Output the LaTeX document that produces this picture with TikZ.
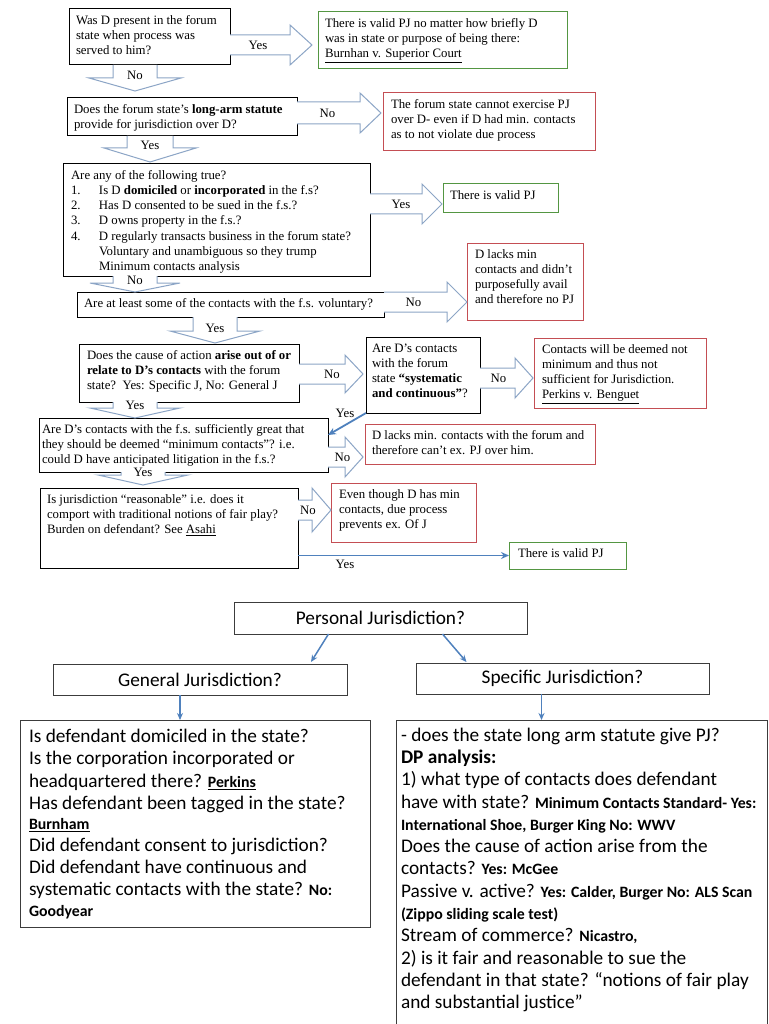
\documentclass[tikz,border=0pt]{standalone}
\usepackage{fontspec}
\setmainfont{Liberation Serif}
\newfontfamily\calfont{Carlito}
\usetikzlibrary{arrows.meta,calc}
\definecolor{acol}{RGB}{140,165,198}
\definecolor{gcol}{RGB}{84,150,66}
\definecolor{rcol}{RGB}{196,78,84}
\definecolor{tcol}{RGB}{79,129,189}
\definecolor{bcol}{RGB}{60,60,60}
\newcommand\fcfont{\fontsize{12.8}{15.3}\selectfont}
\newcommand\bigfont{\calfont\fontsize{19.3}{22.3}\selectfont}
\newcommand\sm[1]{{\fontsize{15.8}{22.3}\selectfont\bfseries #1}}
\newcommand\nm[1]{\makebox[28pt][l]{#1}}
\def\qbpady{4.3pt}
% [padx]{name}{x1}{y1}{x2}{y2}{style}{text}
\newcommand\qb[8][7]{%
  \pgfmathsetlengthmacro\qbw{(#5-#3)*1pt-2*(#1)*1pt}%
  \pgfmathsetlengthmacro\qbh{(#6-#4)*1pt-2*\qbpady}%
  \node[#7, anchor=north west, inner xsep=#1pt, inner ysep=\qbpady, outer sep=0pt] (#2) at (#3,#4)
   {\parbox[c][\qbh][t]{\qbw}{\raggedright\strut #8}};%
}
% right block arrow: {src}{dst}{yc}{shaft half}{head half}{head len}{gap}{label}{label dx}
\newcommand\blockR[9]{%
  \path[blockarrow] let \p1=(#1.east), \p2=(#2.west) in
   (\x1,{(#4-#3)*1pt}) -- ({\x2-(#7+#6)*1pt},{(#4-#3)*1pt}) -- ({\x2-(#7+#6)*1pt},{(#5-#3)*1pt})
   -- ({\x2-(#7)*1pt},{-(#3)*1pt}) -- ({\x2-(#7+#6)*1pt},{(-#5-#3)*1pt}) -- ({\x2-(#7+#6)*1pt},{(-#4-#3)*1pt})
   -- (\x1,{(-#4-#3)*1pt})
   ({(\x1+\x2-(#7+#6)*1pt)/2+(#9)*1pt},{-(#3)*1pt}) node[lab]{#8};%
}
% down block arrow: {src}{dst}{xc}{shaft half}{head half}{head len}{gap}{label}
\newcommand\blockD[8]{%
  \path[blockarrow] let \p1=(#1.south), \p2=(#2.north) in
   ({(#3-#4)*1pt},\y1) -- ({(#3-#4)*1pt},{\y2+(#7+#6)*1pt}) -- ({(#3-#5)*1pt},{\y2+(#7+#6)*1pt})
   -- ({(#3)*1pt},{\y2+(#7)*1pt}) -- ({(#3+#5)*1pt},{\y2+(#7+#6)*1pt}) -- ({(#3+#4)*1pt},{\y2+(#7+#6)*1pt})
   -- ({(#3+#4)*1pt},\y1)
   ({(#3)*1pt},{\y2+(#7+#6+3)*1pt}) node[lab]{#8};%
}
\tikzset{
  qbox/.style={draw=black, line width=1pt, fill=white, font=\fcfont},
  gbox/.style={draw=gcol, line width=1pt, fill=white, font=\fcfont},
  rbox/.style={draw=rcol, line width=1pt, fill=white, font=\fcfont},
  hbox/.style={draw=bcol, line width=0.9pt, fill=white, outer sep=0pt, inner sep=0pt, font=\bigfont},
  lbox/.style={draw=bcol, line width=0.9pt, fill=white, font=\bigfont},
  blockarrow/.style={draw=acol, fill=white, line width=1pt, line join=miter},
  lab/.style={font=\fcfont, inner sep=0pt},
  thinarrow/.style={draw=tcol, line width=1.8pt, -{Stealth[length=8pt,width=7pt]}},
  barrow/.style={draw=tcol, line width=1.5pt, -{Stealth[length=7pt,width=6pt]}},
}
\begin{document}
\begin{tikzpicture}[x=1pt,y=-1pt]
\useasboundingbox (0,0) rectangle (768,1024);
\fill[white] (0,0) rectangle (768,1024);
\clip (0,0) rectangle (768,1024);

% ---------- flowchart ----------
\qb{A}{69}{9}{230}{65}{qbox}{Was D present in the forum\\ state when process was\\ served to him?}
\qb{G1}{318}{12}{567}{69}{gbox}{There is valid PJ no matter how briefly D\\ was in state or purpose of being there:\\ \underline{Burnhan v. Superior Court}}
\qb{B}{67}{98}{297}{136}{qbox}{Does the forum state’s \textbf{long-arm statute}\\ provide for jurisdiction over D?}
\qb[8]{R1}{383}{93}{595}{151}{rbox}{The forum state cannot exercise PJ\\ over D- even if D had min. contacts\\ as to not violate due process}
\qb[8]{C}{63}{164}{370}{276}{qbox}{Are any of the following true?\\ \nm{1.}Is D \textbf{domiciled} or \textbf{incorporated} in the f.s?\\ \nm{2.}Has D consented to be sued in the f.s.?\\ \nm{3.}D owns property in the f.s.?\\ \nm{4.}D regularly transacts business in the forum state?\\ \nm{}Voluntary and unambiguous so they trump\\ \nm{}Minimum contacts analysis}
\qb{G2}{443}{184}{558}{213}{gbox}{There is valid PJ}
\qb{D}{77}{292}{384}{317}{qbox}{Are at least some of the contacts with the f.s. voluntary?}
\qb[8]{R2}{467}{243}{583}{320}{rbox}{D lacks min\\ contacts and didn’t\\ purposefully avail\\ and therefore no PJ}
\qb[8]{E}{79}{344}{299}{402}{qbox}{Does the cause of action \textbf{arise out of or}\\ \textbf{relate to D’s contacts} with the forum\\ state?\ \ Yes: Specific J, No: General J}
\qb[6]{F}{366}{337}{480}{413}{qbox}{Are D’s contacts\\ with the forum\\ state \textbf{“systematic}\\ \textbf{and continuous”}?}
\qb[8]{R3}{534}{338}{706}{408}{rbox}{Contacts will be deemed not\\ minimum and thus not\\ sufficient for Jurisdiction.\\ \underline{Perkins v. Benguet}}
\qb[3]{G}{39}{418}{328}{472}{qbox}{Are D’s contacts with the f.s. sufficiently great that\\ they should be deemed “minimum contacts”? i.e.\\ could D have anticipated litigation in the f.s.?}
\qb{R4}{365}{424}{595}{464}{rbox}{D lacks min. contacts with the forum and\\ therefore can’t ex. PJ over him.}
\qb{H}{40}{488}{298}{568}{qbox}{Is jurisdiction “reasonable” i.e. does it\\ comport with traditional notions of fair play?\\ Burden on defendant? See \underline{Asahi}}
\qb[8]{R5}{331}{483}{476}{542}{rbox}{Even though D has min\\ contacts, due process\\ prevents ex. Of J}
\qb[9]{G3}{509}{542}{626}{569}{gbox}{There is valid PJ}

\blockR{A}{G1}{45}{10}{20}{22}{6}{Yes}{-2}
\blockR{B}{R1}{113}{11}{20}{21}{2}{No}{-1}
\blockR{C}{G2}{204}{10}{20}{20}{1}{Yes}{5}
\blockR{D}{R2}{302}{10}{20}{20}{0}{No}{-2}
\blockR{E}{F}{374}{10}{19}{18}{3}{No}{10}
\blockR{F}{R3}{378}{10}{20}{18}{1}{No}{1}
\blockR{G}{R4}{457}{10}{20}{18}{2}{No}{6}
\blockR{H}{R5}{510}{10}{22}{19}{0}{No}{3}

\blockD{A}{B}{135}{22}{46}{13}{7}{No}
\blockD{B}{C}{150}{23}{46}{14}{2}{Yes}
\blockD{C}{D}{135}{22}{45}{9}{0}{No}
\blockD{D}{E}{215}{22}{45}{12}{1}{Yes}
\blockD{E}{G}{135}{22}{45}{10}{0}{Yes}
\blockD{G}{H}{143}{22}{45}{10}{3}{Yes}

\draw[thinarrow] (F.south west) -- ($(G.north east)+(0,17)$);
\node[lab] (y1) at (345,413) {Yes};
\draw[thinarrow] (H.east |- G3.west) -- (G3.west);
\node[lab] (y2) at (345,564) {Yes};

% ---------- bottom chart ----------
\node[hbox, minimum width=293pt, minimum height=32pt, anchor=north west] (PJ) at (234,602) {Personal Jurisdiction?};
\node[hbox, minimum width=294pt, minimum height=31pt, anchor=north west] (GJ) at (53,664) {General Jurisdiction?};
\node[hbox, minimum width=293pt, minimum height=31pt, anchor=north west] (SJ) at (416,663) {Specific Jurisdiction?};

\def\qbpady{7pt}
\qb[9]{L}{20}{720}{370}{927}{lbox}{Is defendant domiciled in the state?\\
Is the corporation incorporated or\\
headquartered there? \sm{\underline{Perkins}}\\
Has defendant been tagged in the state?\\[-2pt]
\sm{\underline{Burnham}}\\[-1pt]
Did defendant consent to jurisdiction?\\
Did defendant have continuous and\\
systematic contacts with the state? \sm{No:}\\[-1.3pt]
\sm{Goodyear}}
\def\qbpady{5.5pt}
\qb[5]{R}{396}{720}{767}{1040}{lbox}{- does the state long arm statute give PJ?\\
\textbf{DP analysis:}\\
1) what type of contacts does defendant\\
have with state? \sm{Minimum Contacts Standard- Yes:}\\
\sm{International Shoe, Burger King No: WWV}\\
Does the cause of action arise from the\\
contacts? \sm{Yes: McGee}\\
Passive v. active? \sm{Yes: Calder, Burger No: ALS Scan}\\
\sm{(Zippo sliding scale test)}\\
Stream of commerce? \sm{Nicastro,}\\
2) is it fair and reasonable to sue the\\
defendant in that state? “notions of fair play\\
and substantial justice”}

\draw[barrow] ([xshift=-52pt]PJ.south) -- ([xshift=111pt,yshift=2pt]GJ.north);
\draw[barrow] ([xshift=62pt]PJ.south) -- ([xshift=-96pt,yshift=1pt]SJ.north);
\draw[barrow] ([xshift=-20pt]GJ.south) -- ([xshift=-20pt]GJ.south |- L.north);
\draw[barrow] ([xshift=-21pt]SJ.south) -- ([xshift=-21pt]SJ.south |- R.north);
\end{tikzpicture}
\end{document}
